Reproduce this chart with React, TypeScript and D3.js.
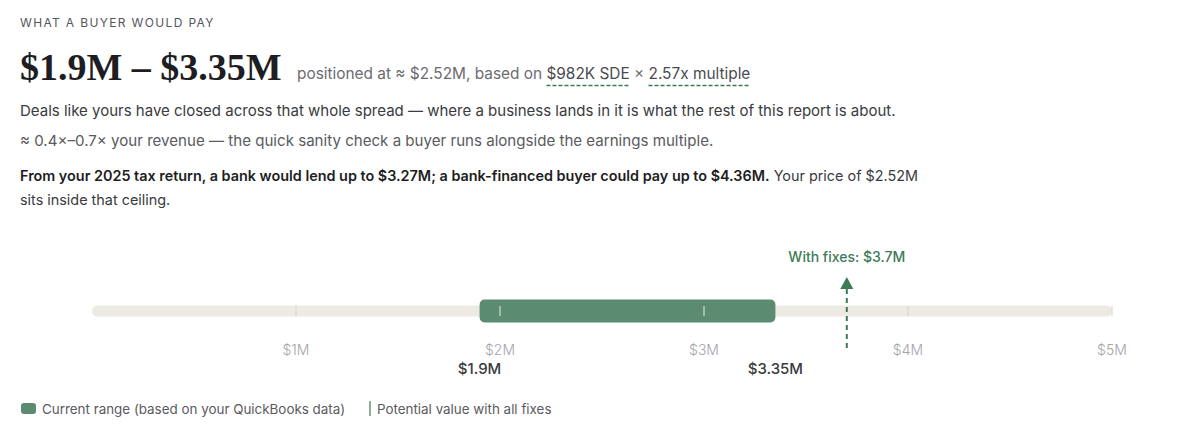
import React, { useLayoutEffect, useRef, useState } from "react";
import * as d3 from "d3";

const tickValues = [1, 2, 3, 4, 5];
const tickLabels = ["$1M", "$2M", "$3M", "$4M", "$5M"];
const rangeLow = 1.9;
const rangeHigh = 3.35;
const rangeLabels = ["$1.9M", "$3.35M"];
const fixesValue = 3.7;
const fixesLabel = "With fixes: $3.7M";
const domainMax = 5;

const SANS = "Inter, 'Noto Sans', sans-serif";
const GREEN = "#5b8b70";
const GREEN_DARK = "#3e7a56";

function Underlined({ x, y, parts }: { x: number; y: number; parts: { t: string; u?: boolean }[] }) {
  const ref = useRef<SVGTextElement>(null);
  const [lines, setLines] = useState<{ x1: number; x2: number }[]>([]);
  useLayoutEffect(() => {
    const el = ref.current;
    if (!el) return;
    const out: { x1: number; x2: number }[] = [];
    let idx = 0;
    parts.forEach((p) => {
      if (p.u) {
        const s = el.getStartPositionOfChar(idx).x;
        const e = el.getEndPositionOfChar(idx + p.t.length - 1).x;
        out.push({ x1: s, x2: e });
      }
      idx += p.t.length;
    });
    setLines(out);
  }, []);
  return (
    <g>
      <text ref={ref} x={x} y={y} fontFamily={SANS} fontSize={15.4} fill="#6b6b70">
        {parts.map((p, i) => (
          <tspan key={i} fill={p.u ? "#4a4a50" : undefined}>{p.t}</tspan>
        ))}
      </text>
      {lines.map((l, i) => (
        <line key={i} x1={l.x1} x2={l.x2} y1={y + 6.5} y2={y + 6.5} stroke={GREEN_DARK} strokeWidth={1.5} strokeDasharray="4 2" />
      ))}
    </g>
  );
}

export default function App() {
  const x = d3.scaleLinear().domain([0, domainMax]).range([92, 1112]);
  const trackY = 311;
  return (
    <svg width={1200} height={443} style={{ position: "absolute", left: 0, top: 0, background: "#fff" }}>
      <text x={20} y={27} fontFamily={SANS} fontSize={12} letterSpacing={1.35} fill="#55555c">WHAT A BUYER WOULD PAY</text>
      <text x={20} y={80} fontFamily="'Liberation Serif', serif" fontWeight={700} fontSize={38} fill="#1d1d22">$1.9M – $3.35M</text>
      <Underlined
        x={297}
        y={79}
        parts={[
          { t: "positioned at ≈ $2.52M, based on " },
          { t: "$982K SDE", u: true },
          { t: " × " },
          { t: "2.57x multiple", u: true },
        ]}
      />
      <text x={20} y={116} fontFamily={SANS} fontSize={15} fill="#3a3a40">
        Deals like yours have closed across that whole spread — where a business lands in it is what the rest of this report is about.
      </text>
      <text x={20} y={146} fontFamily={SANS} fontSize={15.1} fill="#5a5a60">
        ≈ 0.4×–0.7× your revenue — the quick sanity check a buyer runs alongside the earnings multiple.
      </text>
      <text x={20} y={181} fontFamily={SANS} fontSize={14.4} fill="#1d1d22">
        <tspan fontWeight={600}>From your 2025 tax return, a bank would lend up to $3.27M; a bank-financed buyer could pay up to $4.36M.</tspan>
        <tspan fill="#3a3a40"> Your price of $2.52M</tspan>
      </text>
      <text x={20} y={205} fontFamily={SANS} fontSize={14.4} fill="#3a3a40">sits inside that ceiling.</text>

      {/* track */}
      <rect x={x(0)} y={trackY - 5.5} width={x(domainMax) - x(0)} height={11} rx={5.5} fill="#edeae4" />
      {/* range bar */}
      <rect x={x(rangeLow)} y={trackY - 11.5} width={x(rangeHigh) - x(rangeLow)} height={23} rx={5} fill={GREEN} />
      {/* ticks */}
      {tickValues.map((v, i) => {
        const inside = v >= rangeLow && v <= rangeHigh;
        return (
          <g key={v}>
            <line x1={x(v)} x2={x(v)} y1={inside ? trackY - 5 : trackY - 5.5} y2={inside ? trackY + 5 : trackY + 5.5} stroke={inside ? "#ffffff" : "#d8d4cc"} strokeWidth={1} opacity={inside ? 0.85 : 1} />
            <text x={x(v)} y={355} textAnchor="middle" fontFamily={SANS} fontSize={14} fontWeight={300} fill="#a3a3ab">{tickLabels[i]}</text>
          </g>
        );
      })}
      {/* range labels */}
      {[rangeLow, rangeHigh].map((v, i) => (
        <text key={v} x={x(v)} y={374} textAnchor="middle" fontFamily={SANS} fontSize={15} fontWeight={500} fill="#3a3a40">{rangeLabels[i]}</text>
      ))}
      {/* fixes arrow */}
      <line x1={x(fixesValue)} x2={x(fixesValue)} y1={289} y2={349} stroke={GREEN_DARK} strokeWidth={2} strokeDasharray="5 4" />
      <path d={d3.line()([[x(fixesValue) - 6.5, 289], [x(fixesValue), 277], [x(fixesValue) + 6.5, 289]]) + "Z"} fill={GREEN_DARK} />
      <text x={x(fixesValue)} y={262} textAnchor="middle" fontFamily={SANS} fontSize={14} fontWeight={500} fill={GREEN_DARK}>{fixesLabel}</text>

      {/* legend */}
      <rect x={21} y={403} width={15} height={11} rx={3} fill={GREEN} />
      <text x={42} y={414} fontFamily={SANS} fontSize={13.4} fill="#5a5a60">Current range (based on your QuickBooks data)</text>
      <line x1={370} x2={370} y1={401} y2={416} stroke={GREEN_DARK} strokeWidth={1.2} />
      <text x={377} y={414} fontFamily={SANS} fontSize={13.4} fill="#5a5a60">Potential value with all fixes</text>
    </svg>
  );
}
